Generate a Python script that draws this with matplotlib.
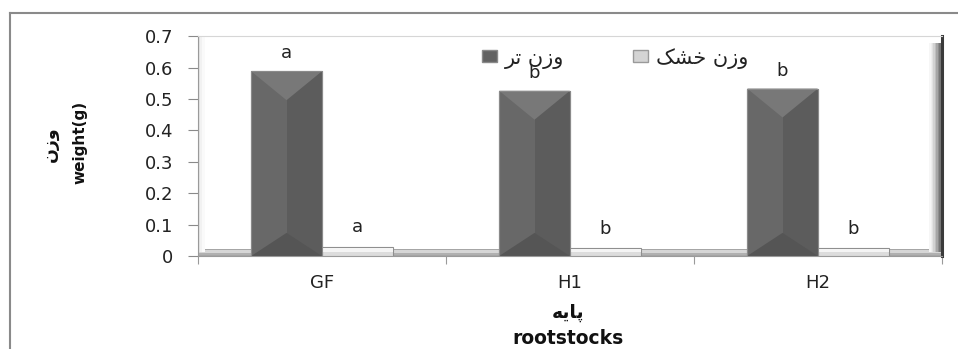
import numpy as np
import matplotlib.pyplot as plt
from matplotlib.patches import Polygon, Rectangle, Patch
from matplotlib.lines import Line2D

# داده‌ها: وزن تر و وزن خشک برای سه پایه
rootstocks = ['GF', 'H1', 'H2']
wet_weight = [0.588, 0.526, 0.533]
dry_weight = [0.029, 0.025, 0.025]
wet_letters = ['a', 'b', 'b']
dry_letters = ['a', 'b', 'b']

# متن فارسی به صورت شکل‌های نمایشی (ترتیب دیداری)
lbl_wet = '\uFEAE\uFE97 \uFEE5\uFEAF\uFEED'            # وزن تر
lbl_dry = '\uFB8F\uFEB8\uFEA7 \uFEE5\uFEAF\uFEED'      # وزن خشک
lbl_weight = '\uFEE5\uFEAF\uFEED'                      # وزن
lbl_root = '\uFEEA\uFEF3\uFE8E\uFB58'                  # پایه

plt.rcParams['font.family'] = ['DejaVu Sans']

fig = plt.figure(figsize=(9.58, 3.49), dpi=100)
ax = fig.add_axes([0.2067, 0.2665, 0.7766, 0.630])

x = np.arange(len(rootstocks))
w = 0.285
off = 0.143

ax.set_xlim(-0.5, 2.5)
ax.set_ylim(0, 0.7)

# کف سه‌بعدی
ax.add_patch(Rectangle((-0.5, 0.004), 3.0, 0.018, facecolor='#d6d6d6',
                       edgecolor='#a4a4a4', lw=0.7, zorder=1))
ax.add_patch(Rectangle((-0.5, 0.004), 3.0, 0.006, facecolor='#b0b0b0',
                       edgecolor='none', zorder=1.1))

bars_wet = ax.bar(x - off, wet_weight, w, color='#686868', edgecolor='#8a8a8a',
                  lw=0.8, zorder=3)
bars_dry = ax.bar(x + off, dry_weight, w, color='#dcdcdc', edgecolor='#8f8f8f',
                  lw=0.8, zorder=3)

# برجستگی روی ستون‌ها
bev = 0.092
for b in bars_wet:
    x0, x1 = b.get_x(), b.get_x() + b.get_width()
    xm = (x0 + x1) / 2
    h = b.get_height()
    ax.add_patch(Polygon([(xm, 0), (x1, 0), (x1, h), (xm, h)],
                         facecolor='#5c5c5c', edgecolor='none', zorder=3.1))
    ax.add_patch(Polygon([(x0, h), (x1, h), (xm, h - bev)],
                         facecolor='#787878', edgecolor='none', zorder=3.2))
    ax.add_patch(Polygon([(x0, 0), (x1, 0), (xm, bev * 0.8)],
                         facecolor='#555555', edgecolor='none', zorder=3.2))
    ax.add_patch(Rectangle((x0, 0), x1 - x0, h, facecolor='none',
                           edgecolor='#8a8a8a', lw=0.8, zorder=3.3))
for b in bars_dry:
    x0, x1 = b.get_x(), b.get_x() + b.get_width()
    h = b.get_height()
    ax.add_patch(Rectangle((x0, h * 0.45), x1 - x0, h * 0.4, facecolor='#f4f4f4',
                           edgecolor='none', zorder=3.2))

# حروف معنی‌داری
for b, t in zip(bars_wet, wet_letters):
    ax.annotate(t, (b.get_x() + b.get_width() / 2, b.get_height()),
                xytext=(0, 13), textcoords='offset points', ha='center',
                va='center', fontsize=13, color='#222222', zorder=6)
for b, t in zip(bars_dry, dry_letters):
    ax.annotate(t, (b.get_x() + b.get_width() / 2, b.get_height()),
                xytext=(0, 14), textcoords='offset points', ha='center',
                va='center', fontsize=13, color='#222222', zorder=6)

# دیوار سمت راست با سایه
shade = ['#f6f6f6', '#eeeeee', '#e2e2e2', '#d2d2d2', '#bebebe', '#a6a6a6',
         '#8e8e8e', '#777777']
sw = 0.0019
for i, c in enumerate(shade):
    ax.add_patch(Rectangle((1 - (len(shade) - i) * sw - 0.002, 0.02), sw, 0.95,
                           transform=ax.transAxes, facecolor=c, edgecolor='none',
                           zorder=2))
for i, c in enumerate(['#e6e6e6', '#f2f2f2', '#fafafa']):
    ax.add_patch(Rectangle((i * 0.003, 0.02), 0.003, 0.98, transform=ax.transAxes,
                           facecolor=c, edgecolor='none', zorder=2))

ax.spines['top'].set_color('#d6d6d6')
ax.spines['right'].set_color('#3a3a3a')
ax.spines['right'].set_linewidth(2.2)
ax.spines['left'].set_color('#9a9a9a')
ax.spines['bottom'].set_color('#9a9a9a')

ax.set_yticks(np.arange(0, 0.71, 0.1))
ax.set_yticklabels(['0', '0.1', '0.2', '0.3', '0.4', '0.5', '0.6', '0.7'])
ax.tick_params(axis='y', length=7, width=0.8, color='#8a8a8a', pad=11,
               labelsize=13, labelcolor='#222222')
ax.set_xticks(x)
ax.set_xticklabels(rootstocks)
ax.set_xticks([-0.5, 0.5, 1.5, 2.5], minor=True)
ax.tick_params(axis='x', which='major', length=0, pad=13, labelsize=13,
               labelcolor='#222222')
ax.tick_params(axis='x', which='minor', length=6, width=0.8, color='#9a9a9a')

handles = [Patch(facecolor='#626262', edgecolor='#8a8a8a', label=lbl_wet),
           Patch(facecolor='#d4d4d4', edgecolor='#9a9a9a', label=lbl_dry)]
ax.legend(handles=handles, loc='center left', bbox_to_anchor=(0.382, 0.9),
          ncol=2, frameon=False, fontsize=15, handlelength=0.7,
          handleheight=0.5, handletextpad=0.4, columnspacing=3.3,
          borderpad=0, borderaxespad=0, labelcolor='#222222')

# برچسب محورها
fig.text(50 / 958, 1 - 144 / 349, lbl_weight, rotation=90, ha='center',
         va='center', fontsize=12.5, fontweight='bold', color='#111111')
fig.text(80 / 958, 1 - 142 / 349, 'weight(g)', rotation=90, ha='center',
         va='center', fontsize=11, fontweight='bold', color='#111111')
fig.text(568 / 958, 1 - 312 / 349, lbl_root, ha='center', va='center',
         fontsize=13.5, fontweight='bold', color='#111111')
fig.text(568 / 958, 1 - 339 / 349, 'rootstocks', ha='center', va='center',
         fontsize=13.5, fontweight='bold', color='#111111')

# قاب بیرونی
fig.add_artist(Line2D([10 / 958, 1], [1 - 13 / 349, 1 - 13 / 349],
                      color='#8a8a8a', lw=1.5))
fig.add_artist(Line2D([10 / 958, 10 / 958], [0, 1 - 13 / 349],
                      color='#8a8a8a', lw=1.5))

fig.savefig('out.png', dpi=100)
